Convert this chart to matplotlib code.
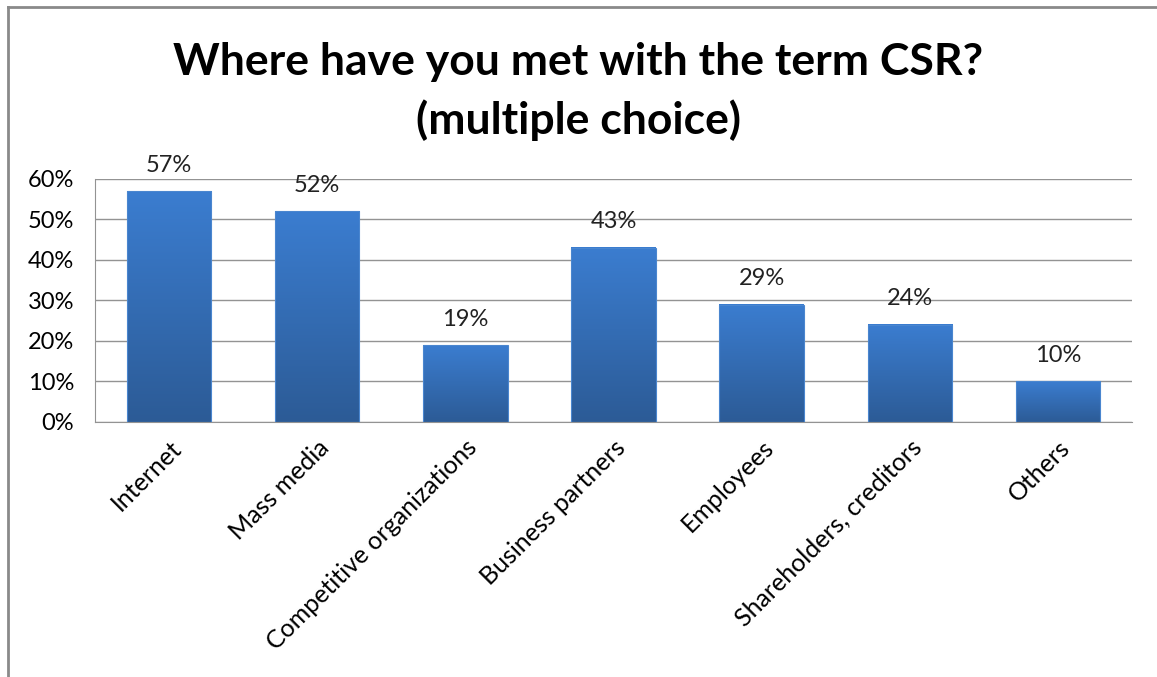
import numpy as np
import matplotlib
matplotlib.use("Agg")
import matplotlib.pyplot as plt
from matplotlib.colors import LinearSegmentedColormap
from matplotlib.lines import Line2D

categories = ["Internet", "Mass media", "Competitive organizations",
              "Business partners", "Employees", "Shareholders, creditors",
              "Others"]
shares = [57, 52, 19, 43, 29, 24, 10]
yticks = [0, 10, 20, 30, 40, 50, 60]

plt.rcParams["font.family"] = ["Lato", "DejaVu Sans"]

fig = plt.figure(figsize=(11.57, 6.77), dpi=100)
ax = fig.add_axes([0.0821, 0.3767, 0.8963, 0.3589])

x = np.arange(len(categories))
width = 0.57
bars = ax.bar(x, shares, width=width, color="none", edgecolor="#4a86cf",
              linewidth=0.8, zorder=3)

# vertical gradient fill for each bar
cmap = LinearSegmentedColormap.from_list("bluegrad", ["#2c5b96", "#3b7dd0"])
grad = np.linspace(0, 1, 256).reshape(-1, 1)
for b in bars:
    x0, w, h = b.get_x(), b.get_width(), b.get_height()
    ax.imshow(grad, cmap=cmap, origin="lower", aspect="auto",
              extent=[x0, x0 + w, 0, h], zorder=2)

for xi, v in zip(x, shares):
    ax.text(xi, v + 3.8, f"{v}%", ha="center", va="bottom",
            fontsize=17, color="#222222", clip_on=False)

ax.set_xlim(-0.5, len(categories) - 0.5)
ax.set_ylim(0, 60)
ax.set_yticks(yticks)
ax.set_yticklabels([f"{t}%" for t in yticks], fontsize=17)
ax.yaxis.grid(True, color="#939393", linewidth=1.0, zorder=0)
ax.set_axisbelow(True)
ax.tick_params(axis="y", length=0, pad=15)

ax.set_xticks(x)
ax.set_xticklabels(categories, rotation=45, ha="right",
                   rotation_mode="anchor", fontsize=18)
ax.tick_params(axis="x", length=0, pad=10)

for side in ["top", "right"]:
    ax.spines[side].set_visible(False)
ax.spines["left"].set_color("#939393")
ax.spines["bottom"].set_color("#939393")

fig.text(0.5, 0.908, "Where have you met with the term CSR?",
         ha="center", va="center", fontsize=32, fontweight="bold")
fig.text(0.5, 0.822, "(multiple choice)",
         ha="center", va="center", fontsize=32, fontweight="bold")

# outer chart frame along top and left edges
fig.add_artist(Line2D([0.0065, 1.0], [0.9895, 0.9895], transform=fig.transFigure,
                      color="#8a8a8a", linewidth=2.0))
fig.add_artist(Line2D([0.0065, 0.0065], [0.0, 0.9895], transform=fig.transFigure,
                      color="#8a8a8a", linewidth=2.0))

fig.savefig("out.png", dpi=100, facecolor="white")
